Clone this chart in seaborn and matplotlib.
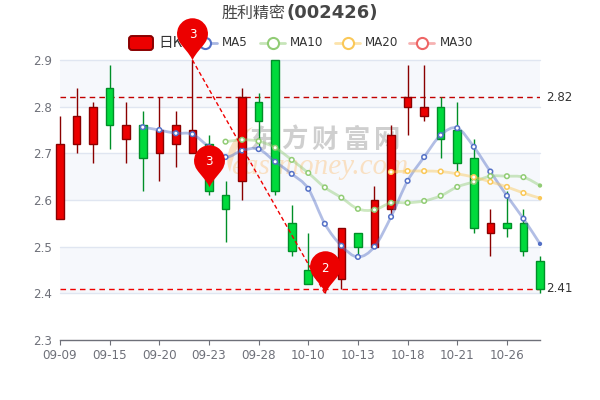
#!/usr/bin/env python

'''
plot.py
  Candlestick chart with moving averages, drawn with seaborn and matplotlib
'''

import numpy as np
import seaborn as sns
from matplotlib import pyplot as plt
from matplotlib.lines import Line2D
from matplotlib.markers import MarkerStyle
from matplotlib.patches import FancyBboxPatch, PathPatch
from matplotlib.path import Path
from matplotlib.transforms import Affine2D

# tick labels on the category axis, one every three days
tick_positions = [0, 3, 6, 9, 12, 15, 18, 21, 24, 27]
tick_labels = ["09-09", "09-15", "09-20", "09-23", "09-28",
               "10-10", "10-13", "10-18", "10-21", "10-26"]

# daily candles (red when close is above open)
opens = [2.56, 2.72, 2.72, 2.84, 2.73, 2.76, 2.70, 2.72, 2.70, 2.72,
         2.61, 2.64, 2.81, 2.90, 2.55, 2.45, 2.43, 2.43, 2.53, 2.50,
         2.58, 2.80, 2.78, 2.80, 2.75, 2.69, 2.53, 2.55, 2.55, 2.47]
closes = [2.72, 2.78, 2.80, 2.76, 2.76, 2.69, 2.75, 2.76, 2.75, 2.62,
          2.58, 2.82, 2.77, 2.62, 2.49, 2.42, 2.47, 2.54, 2.50, 2.60,
          2.74, 2.82, 2.80, 2.73, 2.68, 2.54, 2.55, 2.54, 2.49, 2.41]
lows = [2.56, 2.70, 2.68, 2.71, 2.68, 2.62, 2.64, 2.67, 2.70, 2.61,
        2.51, 2.60, 2.71, 2.61, 2.48, 2.42, 2.40, 2.41, 2.48, 2.50,
        2.57, 2.74, 2.77, 2.69, 2.66, 2.53, 2.48, 2.52, 2.48, 2.40]
highs = [2.78, 2.84, 2.81, 2.89, 2.81, 2.79, 2.82, 2.79, 2.90, 2.74,
         2.64, 2.84, 2.83, 2.90, 2.59, 2.53, 2.47, 2.54, 2.53, 2.63,
         2.76, 2.89, 2.89, 2.82, 2.81, 2.73, 2.58, 2.62, 2.58, 2.48]

# moving averages, they only start once enough days have passed
ma5_start = 5
ma5 = [2.756, 2.750, 2.743, 2.741, 2.714, 2.692, 2.706, 2.709, 2.682, 2.656,
       2.624, 2.549, 2.502, 2.478, 2.500, 2.564, 2.641, 2.692, 2.739, 2.754,
       2.714, 2.661, 2.609, 2.560, 2.506]
ma10_start = 10
ma10 = [2.725, 2.729, 2.726, 2.712, 2.686, 2.658, 2.627, 2.605, 2.581, 2.579,
        2.594, 2.594, 2.598, 2.609, 2.628, 2.639, 2.651, 2.651, 2.649, 2.631]
ma20_start = 20
ma20 = [2.660, 2.662, 2.662, 2.661, 2.656, 2.649, 2.639, 2.628, 2.615, 2.604]

# pins and reference lines
pin_days = [8, 9, 16]
pin_values = [2.90, 2.628, 2.40]
pin_labels = ["3", "3", "2"]
high_line = 2.82
low_line = 2.41
trend_days = [8, 16]
trend_values = [2.90, 2.40]

RED = "#ec0000"
RED_EDGE = "#8a0000"
GREEN = "#00da3c"
GREEN_EDGE = "#008f28"
TEXT = "#6e7079"
SPLIT = "#e0e6f1"
BAND = "#f6f8fc"
MA_COLORS = {"MA5": "#5470c6", "MA10": "#91cc75", "MA20": "#fac858", "MA30": "#ee6666"}
CJK = ["Noto Sans CJK SC", "DejaVu Sans"]


def smooth_path(xs, ys):
    '''
    Bezier path through the points, like the smoothed lines in the original
    '''
    xs = np.asarray(xs, dtype=float)
    ys = np.asarray(ys, dtype=float)
    verts = [(xs[0], ys[0])]
    codes = [Path.MOVETO]
    k = 0.17
    for i in range(len(xs) - 1):
        before = max(i - 1, 0)
        after = min(i + 2, len(xs) - 1)
        verts.append((xs[i] + k * (xs[i + 1] - xs[before]), ys[i] + k * (ys[i + 1] - ys[before])))
        verts.append((xs[i + 1] - k * (xs[after] - xs[i]), ys[i + 1] - k * (ys[after] - ys[i])))
        verts.append((xs[i + 1], ys[i + 1]))
        codes += [Path.CURVE4, Path.CURVE4, Path.CURVE4]
    return Path(verts, codes)


def pin_marker():
    '''
    Teardrop marker with its tip at the origin
    '''
    radius = 0.366
    centre = 0.634
    arc = Path.arc(-35, 215)
    verts = [(0, 0)]
    codes = [Path.MOVETO]
    arc_verts = arc.vertices * radius + np.array([0, centre])
    start = arc_verts[0]
    verts += [(0.03, 0.12), (start[0], start[1] - 0.02), tuple(start)]
    codes += [Path.CURVE4, Path.CURVE4, Path.CURVE4]
    verts += [tuple(v) for v in arc_verts[1:]]
    codes += list(arc.codes[1:])
    end = arc_verts[-1]
    verts += [(end[0], end[1] - 0.02), (-0.03, 0.12), (0, 0)]
    codes += [Path.CURVE4, Path.CURVE4, Path.CURVE4]
    verts.append((0, 0))
    codes.append(Path.CLOSEPOLY)
    return MarkerStyle(Path(verts, codes))


sns.set_style("white")
plt.rcParams["font.family"] = ["DejaVu Sans"]

fig = plt.figure(figsize=(6, 4), dpi=100)
ax = fig.add_axes([60 / 600, 60 / 400, 480 / 600, 280 / 400])
ax.set_zorder(2)

# figure positions below are given in pixels from the top left
px = Affine2D().scale(1, -1).translate(0, 400)

ax.set_xlim(0, 29)
ax.set_ylim(2.3, 2.9)

# alternating bands and split lines
for bottom in [2.8, 2.6, 2.4]:
    ax.axhspan(bottom, bottom + 0.1, color=BAND, lw=0, zorder=0)
for level in [2.4, 2.5, 2.6, 2.7, 2.8, 2.9]:
    ax.axhline(level, color=SPLIT, lw=1, zorder=1, clip_on=False)

# watermark, drawn inside the axes so the candles stay on top of it
for i, char in enumerate("东方财富网"):
    ax.text(263 + i * 31, 140, char, transform=px, family=CJK, fontsize=19,
            fontweight="bold", color="#cfcfcf", ha="center", va="center", zorder=1.5)
ax.text(320, 167, "eastmoney.com", transform=px, family="Liberation Serif",
        style="italic", fontsize=21, color="#f9e0c3", ha="center", va="center", zorder=1.5)
crescent = Path([(253, 127), (232, 135), (222, 155), (230, 172),
                 (233, 155), (240, 138), (253, 127), (253, 127)],
                [Path.MOVETO, Path.CURVE4, Path.CURVE4, Path.CURVE4,
                 Path.CURVE4, Path.CURVE4, Path.CURVE4, Path.CLOSEPOLY])
ax.add_patch(PathPatch(crescent, transform=px, facecolor="#f9e0c3", lw=0, zorder=1.5))
ax.patch.set_visible(False)

# horizontal reference lines
ax.axhline(high_line, color="#c20000", lw=1, ls=(0, (4, 3)), zorder=2)
ax.axhline(low_line, color="#f00000", lw=1, ls=(0, (4, 3)), zorder=2)

# candles
days = np.arange(len(opens))
opens_arr = np.array(opens)
closes_arr = np.array(closes)
up = closes_arr >= opens_arr
fills = [RED if u else GREEN for u in up]
edges = [RED_EDGE if u else GREEN_EDGE for u in up]
ax.vlines(days, lows, highs, colors=edges, lw=1, zorder=3, clip_on=False)
ax.bar(days, np.abs(closes_arr - opens_arr), bottom=np.minimum(opens_arr, closes_arr),
       width=0.46, color=fills, edgecolor=edges, linewidth=1, zorder=4, clip_on=False)

# moving averages
for name, start, values in [("MA5", ma5_start, ma5),
                            ("MA10", ma10_start, ma10),
                            ("MA20", ma20_start, ma20)]:
    xs = np.arange(start, start + len(values))
    color = MA_COLORS[name]
    ax.add_patch(PathPatch(smooth_path(xs, values), fill=False, edgecolor=color,
                           lw=2, alpha=0.45, zorder=5, clip_on=False))
    sns.scatterplot(x=xs, y=values, s=11, color="white", edgecolor=color,
                    linewidth=1.1, zorder=6, clip_on=False, ax=ax, legend=False)
    # the last point of each line is drawn solid and smaller
    dots = ax.collections[-1]
    dots.set_facecolor(["white"] * (len(values) - 1) + [color])
    dots.set_sizes([11] * (len(values) - 1) + [4])

ax.set_xlabel("")
ax.set_ylabel("")

# line between the pins
ax.plot(trend_days, trend_values, color="#f00000", lw=1, ls=(0, (3, 2)), zorder=7, clip_on=False)

# pins
sns.scatterplot(x=pin_days, y=pin_values, marker=pin_marker(), s=3700, color=RED,
                linewidth=0, zorder=9, clip_on=False, ax=ax, legend=False)
for day, value, label in zip(pin_days, pin_values, pin_labels):
    ax.annotate(label, (day, value), xytext=(0, 18), textcoords="offset points",
                color="white", fontsize=8.6, ha="center", va="center", zorder=10)

# labels of the reference lines
ax.text(1.013, high_line, f"{high_line:.2f}", transform=ax.get_yaxis_transform(),
        color="#333333", fontsize=8.6, va="center")
ax.text(1.013, low_line, f"{low_line:.2f}", transform=ax.get_yaxis_transform(),
        color="#333333", fontsize=8.6, va="center")

# axes
sns.despine(ax=ax, left=True, top=True, right=True)
ax.spines["bottom"].set_color(TEXT)
ax.spines["bottom"].set_linewidth(1)
ax.set_xticks(tick_positions)
ax.set_xticklabels(tick_labels)
ax.set_yticks([2.3, 2.4, 2.5, 2.6, 2.7, 2.8, 2.9])
ax.tick_params(axis="x", bottom=True, length=3.6, width=0.8, color=TEXT,
               labelcolor=TEXT, labelsize=8.6, pad=3)
ax.tick_params(axis="y", left=False, length=0, labelcolor=TEXT, labelsize=8.6, pad=6)

# title, the stock code is in a heavier face
fig.text(222, 13, "胜利精密", transform=px, family=CJK, fontsize=11.5,
         color="#464646", ha="left", va="center", zorder=1)
fig.text(286, 13, "(002426)", transform=px, fontsize=13, fontweight="bold",
         color="#464646", ha="left", va="center", zorder=1)

# legend, kept under the axes because the first pin covers part of it
fig.add_artist(FancyBboxPatch((129, 36), 24, 14, boxstyle="round,pad=0,rounding_size=3",
                              transform=px, facecolor=RED, edgecolor=RED_EDGE, lw=1.4, zorder=1))
fig.text(158, 42.5, "日K", transform=px, family=CJK, fontsize=10.5, color="#333333",
         ha="left", va="center", zorder=1)
for name, line_left, text_left in [("MA5", 192, 222), ("MA10", 260, 290),
                                   ("MA20", 335, 365), ("MA30", 409, 439.5)]:
    color = MA_COLORS[name]
    fig.add_artist(Line2D([line_left, line_left + 25], [42.5, 42.5], transform=px,
                          color=color, lw=2, alpha=0.5, zorder=1))
    fig.add_artist(Line2D([line_left + 12.5], [42.5], transform=px, marker="o",
                          markersize=8, markerfacecolor="white", markeredgecolor=color,
                          markeredgewidth=1.5, zorder=1))
    fig.text(text_left, 42.5, name, transform=px, color="#333333", fontsize=8.6,
             ha="left", va="center", zorder=1)

fig.savefig("out.png", dpi=100)
